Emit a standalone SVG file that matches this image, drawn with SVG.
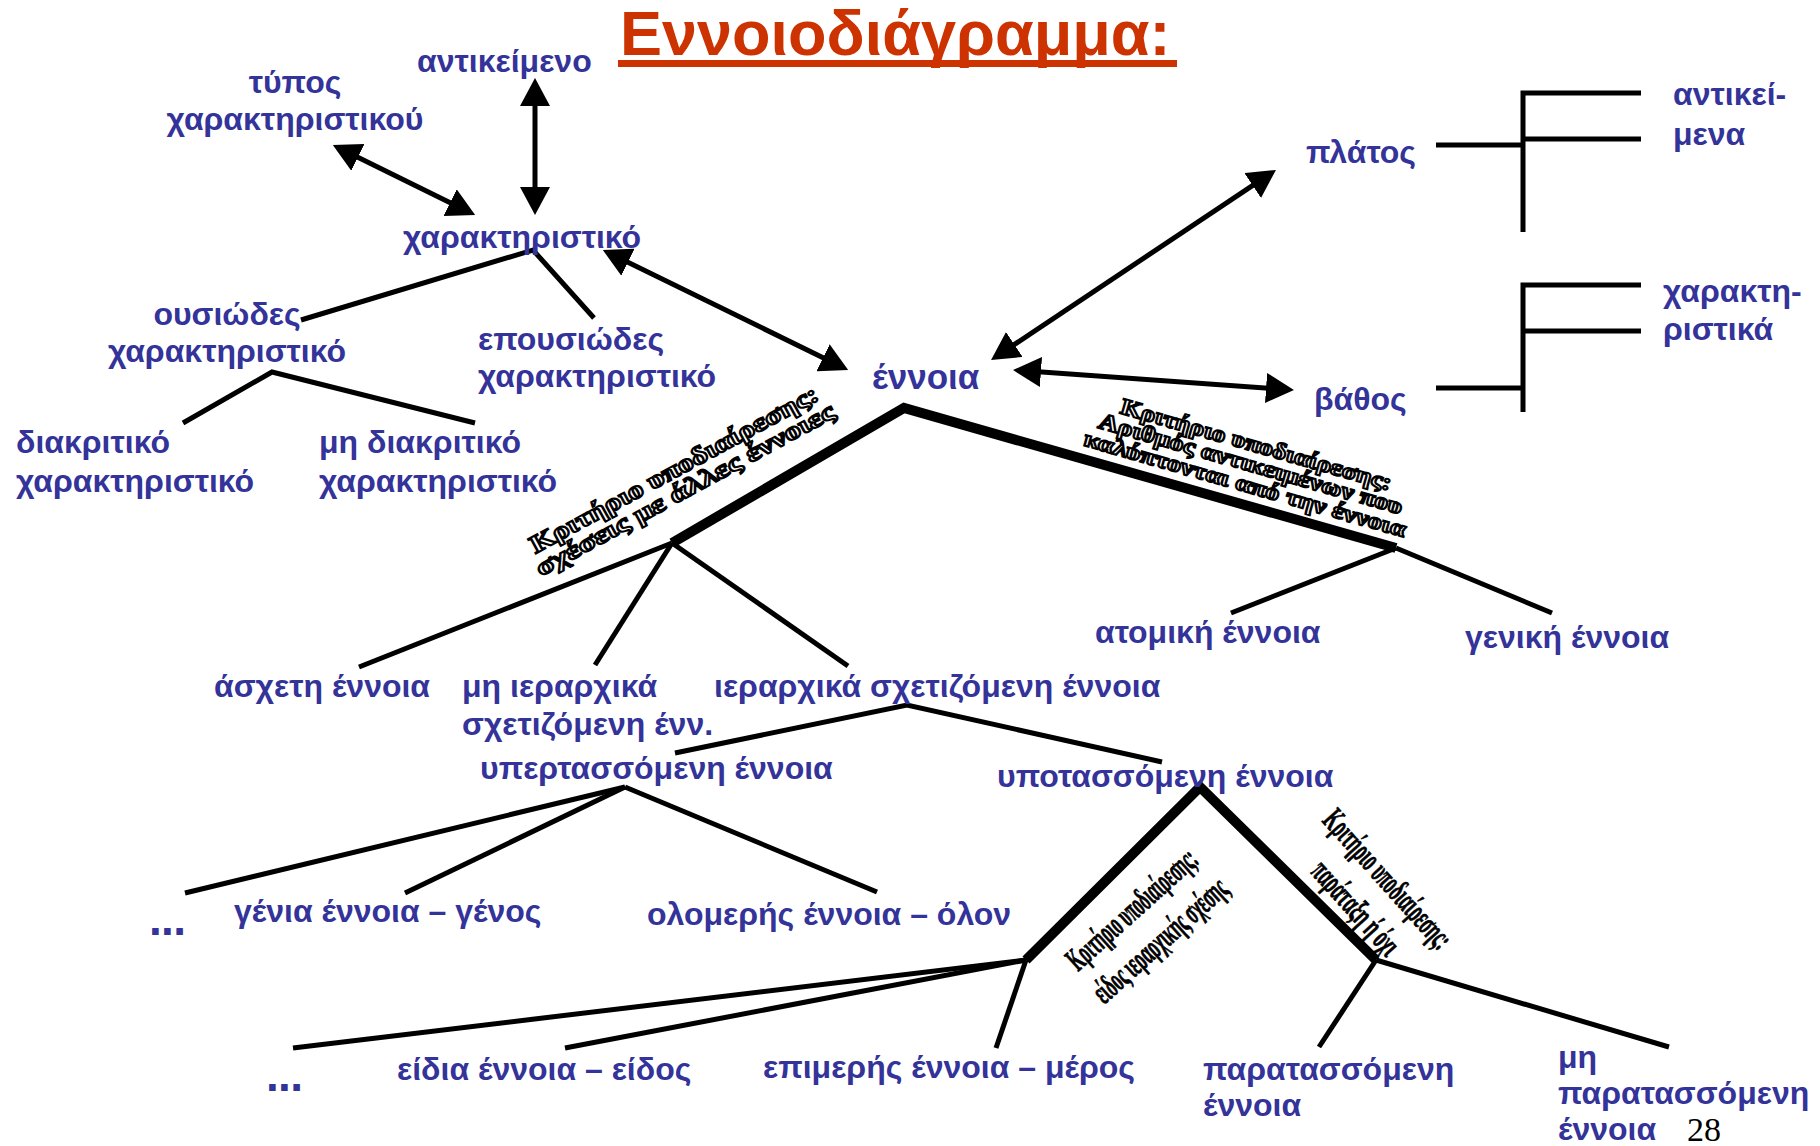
<svg xmlns="http://www.w3.org/2000/svg" width="1820" height="1146" viewBox="0 0 1820 1146">
  <defs>
    <marker id="head" markerUnits="userSpaceOnUse" markerWidth="30" markerHeight="30" refX="20" refY="15" orient="auto-start-reverse" viewBox="0 0 30 30">
      <path d="M0,0 L28,15 L0,30 z" fill="#000"/>
    </marker>
    <style>
      .lbl { font-family: "Liberation Sans", Arial, sans-serif; font-weight: bold; font-size: 32px; fill: #333399; }
      .big { font-size: 35px; }
      .dots { font-size: 46px; }
      .mid { text-anchor: middle; }
      .title { font-family: "Liberation Sans", Arial, sans-serif; font-weight: bold; font-size: 63px; fill: #CC3300; }
      .crit { font-family: "Liberation Serif", "Times New Roman", serif; font-weight: bold; fill: #fff; stroke: #000; stroke-width: 2px; }
      .crit2 { font-family: "Liberation Serif", "Times New Roman", serif; font-weight: bold; font-size: 33px; fill: #000; stroke: #000; stroke-width: 0.8px; }
      .pg { font-family: "Liberation Serif", "Times New Roman", serif; font-size: 34px; fill: #000; }
      .thin { fill: none; stroke: #000; stroke-width: 5; stroke-linejoin: miter; }
      .thick { fill: none; stroke: #000; stroke-width: 10; stroke-linejoin: miter; stroke-miterlimit: 10; }
      .arr { fill: none; stroke: #000; stroke-width: 5; marker-start: url(#head); marker-end: url(#head); }
    </style>
  </defs>
  <rect width="1820" height="1146" fill="#fff"/>

  <!-- heading -->
  <g id="title">
    <text class="title" x="620" y="55">Εννοιοδιάγραμμα:</text>
    <rect x="618" y="60" width="559" height="7" fill="#CC3300"/>
  </g>

  <!-- connectors -->
  <g id="connectors">
    <!-- two-way relations -->
    <line class="arr" x1="535" y1="86" x2="535" y2="207"/>
    <line class="arr" x1="340" y1="148.5" x2="468" y2="211.5"/>
    <line class="arr" x1="610" y1="253.5" x2="841" y2="366.5"/>
    <line class="arr" x1="997.7" y1="355.6" x2="1269.3" y2="174.4"/>
    <line class="arr" x1="1021" y1="370.6" x2="1286" y2="389.4"/>

    <!-- characteristic tree -->
    <polyline class="thin" points="301,320 533,250 594,318"/>
    <polyline class="thin" points="183,423 272,372 475,423"/>

    <!-- main subdivision of the concept -->
    <polyline class="thick" points="672,543 904,408 1396,548"/>
    <line class="thin" x1="672" y1="543" x2="359" y2="667"/>
    <line class="thin" x1="672" y1="543" x2="595" y2="665"/>
    <line class="thin" x1="672" y1="543" x2="848" y2="666"/>
    <line class="thin" x1="1396" y1="548" x2="1231" y2="613"/>
    <line class="thin" x1="1396" y1="548" x2="1552" y2="613"/>

    <!-- hierarchical relation -->
    <polyline class="thin" points="675,753 907,705 1162,762"/>
    <line class="thin" x1="625" y1="787" x2="185" y2="893"/>
    <line class="thin" x1="625" y1="787" x2="405" y2="893"/>
    <line class="thin" x1="625" y1="787" x2="877" y2="892"/>

    <!-- subordinate concept -->
    <polyline class="thick" points="1026,960 1200,787 1376,960"/>
    <line class="thin" x1="1026" y1="960" x2="293" y2="1048"/>
    <line class="thin" x1="1026" y1="960" x2="565" y2="1048"/>
    <line class="thin" x1="1026" y1="960" x2="996" y2="1048"/>
    <line class="thin" x1="1376" y1="960" x2="1319" y2="1047"/>
    <line class="thin" x1="1376" y1="960" x2="1669" y2="1047"/>

    <!-- extent / depth brackets -->
    <line class="thin" x1="1436" y1="145" x2="1523" y2="145"/>
    <polyline class="thin" points="1641,93 1523,93 1523,232"/>
    <line class="thin" x1="1523" y1="139" x2="1641" y2="139"/>
    <line class="thin" x1="1436" y1="388" x2="1523" y2="388"/>
    <polyline class="thin" points="1641,285 1523,285 1523,412"/>
    <line class="thin" x1="1523" y1="331" x2="1641" y2="331"/>
  </g>

  <!-- criterion notes along the branches -->
  <g id="crit-relations" transform="translate(683,486) rotate(-28.5)">
    <text class="crit" font-size="25" x="0" y="-11" text-anchor="middle" textLength="324" lengthAdjust="spacingAndGlyphs">Κριτήριο υποδιαίρεσης:</text>
    <text class="crit" font-size="25" x="0" y="12" text-anchor="middle" textLength="336" lengthAdjust="spacingAndGlyphs">σχέσεις με άλλες έννοιες</text>
  </g>
  <g id="crit-count" transform="translate(1249,470) rotate(16)">
    <text class="crit" font-size="23" x="0" y="-19" text-anchor="middle" textLength="281" lengthAdjust="spacingAndGlyphs">Κριτήριο υποδιαίρεσης:</text>
    <text class="crit" font-size="23" x="0" y="1" text-anchor="middle" textLength="315" lengthAdjust="spacingAndGlyphs">Αριθμός αντικειμένων που</text>
    <text class="crit" font-size="23" x="0" y="22" text-anchor="middle" textLength="334" lengthAdjust="spacingAndGlyphs">καλύπτονται από την έννοια</text>
  </g>
  <g id="crit-kind" transform="translate(1147,926) rotate(-42)">
    <text class="crit2" x="0" y="-12" text-anchor="middle" textLength="164" lengthAdjust="spacingAndGlyphs">Κριτήριο υποδιαίρεσης:</text>
    <text class="crit2" x="0" y="30" text-anchor="middle" textLength="169" lengthAdjust="spacingAndGlyphs">είδος ιεραρχικής σχέσης</text>
  </g>
  <g id="crit-coord" transform="translate(1368,897) rotate(48)">
    <text class="crit2" x="0" y="-16" text-anchor="middle" textLength="175" lengthAdjust="spacingAndGlyphs">Κριτήριο υποδιαίρεσης:</text>
    <text class="crit2" x="0" y="27" text-anchor="middle" textLength="115" lengthAdjust="spacingAndGlyphs">παράταξη ή όχι</text>
  </g>

  <!-- nodes -->
  <g id="n-antikeimeno"><text class="lbl" x="417" y="72">αντικείμενο</text></g>
  <g id="n-typos"><text class="lbl mid" x="295" y="93">τύπος</text><text class="lbl mid" x="295" y="130">χαρακτηριστικού</text></g>
  <g id="n-xaraktiristiko"><text class="lbl" x="403" y="248">χαρακτηριστικό</text></g>
  <g id="n-ousiodes"><text class="lbl mid" x="227" y="325">ουσιώδες</text><text class="lbl mid" x="227" y="362">χαρακτηριστικό</text></g>
  <g id="n-epousiodes"><text class="lbl" x="478" y="350">επουσιώδες</text><text class="lbl" x="478" y="387">χαρακτηριστικό</text></g>
  <g id="n-diakritiko"><text class="lbl" x="16" y="453">διακριτικό</text><text class="lbl" x="16" y="492">χαρακτηριστικό</text></g>
  <g id="n-mi-diakritiko"><text class="lbl" x="319" y="453">μη διακριτικό</text><text class="lbl" x="319" y="492">χαρακτηριστικό</text></g>
  <g id="n-ennoia"><text class="lbl big" x="872" y="389">έννοια</text></g>
  <g id="n-platos"><text class="lbl" x="1306" y="163">πλάτος</text></g>
  <g id="n-vathos"><text class="lbl" x="1314" y="410">βάθος</text></g>
  <g id="n-antikeimena"><text class="lbl" x="1673" y="105">αντικεί-</text><text class="lbl" x="1673" y="145">μενα</text></g>
  <g id="n-xaraktiristika"><text class="lbl" x="1663" y="302">χαρακτη-</text><text class="lbl" x="1663" y="340">ριστικά</text></g>
  <g id="n-atomiki"><text class="lbl" x="1095" y="643">ατομική έννοια</text></g>
  <g id="n-geniki"><text class="lbl" x="1465" y="648">γενική έννοια</text></g>
  <g id="n-asxeti"><text class="lbl" x="214" y="697">άσχετη έννοια</text></g>
  <g id="n-mi-ierarxika"><text class="lbl" x="462" y="697">μη ιεραρχικά</text><text class="lbl" x="462" y="735">σχετιζόμενη ένν.</text></g>
  <g id="n-ierarxika"><text class="lbl" x="714" y="697">ιεραρχικά σχετιζόμενη έννοια</text></g>
  <g id="n-ypertassomeni"><text class="lbl" x="480" y="779">υπερτασσόμενη έννοια</text></g>
  <g id="n-ypotassomeni"><text class="lbl" x="997" y="787">υποτασσόμενη έννοια</text></g>
  <g id="n-etc-1"><text class="lbl dots" x="149" y="935" textLength="37" lengthAdjust="spacing">...</text></g>
  <g id="n-genia"><text class="lbl" x="234" y="922">γένια έννοια – γένος</text></g>
  <g id="n-olomeris"><text class="lbl" x="647" y="925">ολομερής έννοια – όλον</text></g>
  <g id="n-etc-2"><text class="lbl dots" x="266" y="1091" textLength="37" lengthAdjust="spacing">...</text></g>
  <g id="n-eidia"><text class="lbl" x="397" y="1080">είδια έννοια – είδος</text></g>
  <g id="n-epimeris"><text class="lbl" x="763" y="1078">επιμερής έννοια – μέρος</text></g>
  <g id="n-paratassomeni"><text class="lbl" x="1203" y="1080">παρατασσόμενη</text><text class="lbl" x="1203" y="1116">έννοια</text></g>
  <g id="n-mi-paratassomeni"><text class="lbl" x="1558" y="1068">μη</text><text class="lbl" x="1558" y="1104">παρατασσόμενη</text><text class="lbl" x="1558" y="1140">έννοια</text></g>

  <!-- page number -->
  <text class="pg" x="1687" y="1141">28</text>
</svg>
